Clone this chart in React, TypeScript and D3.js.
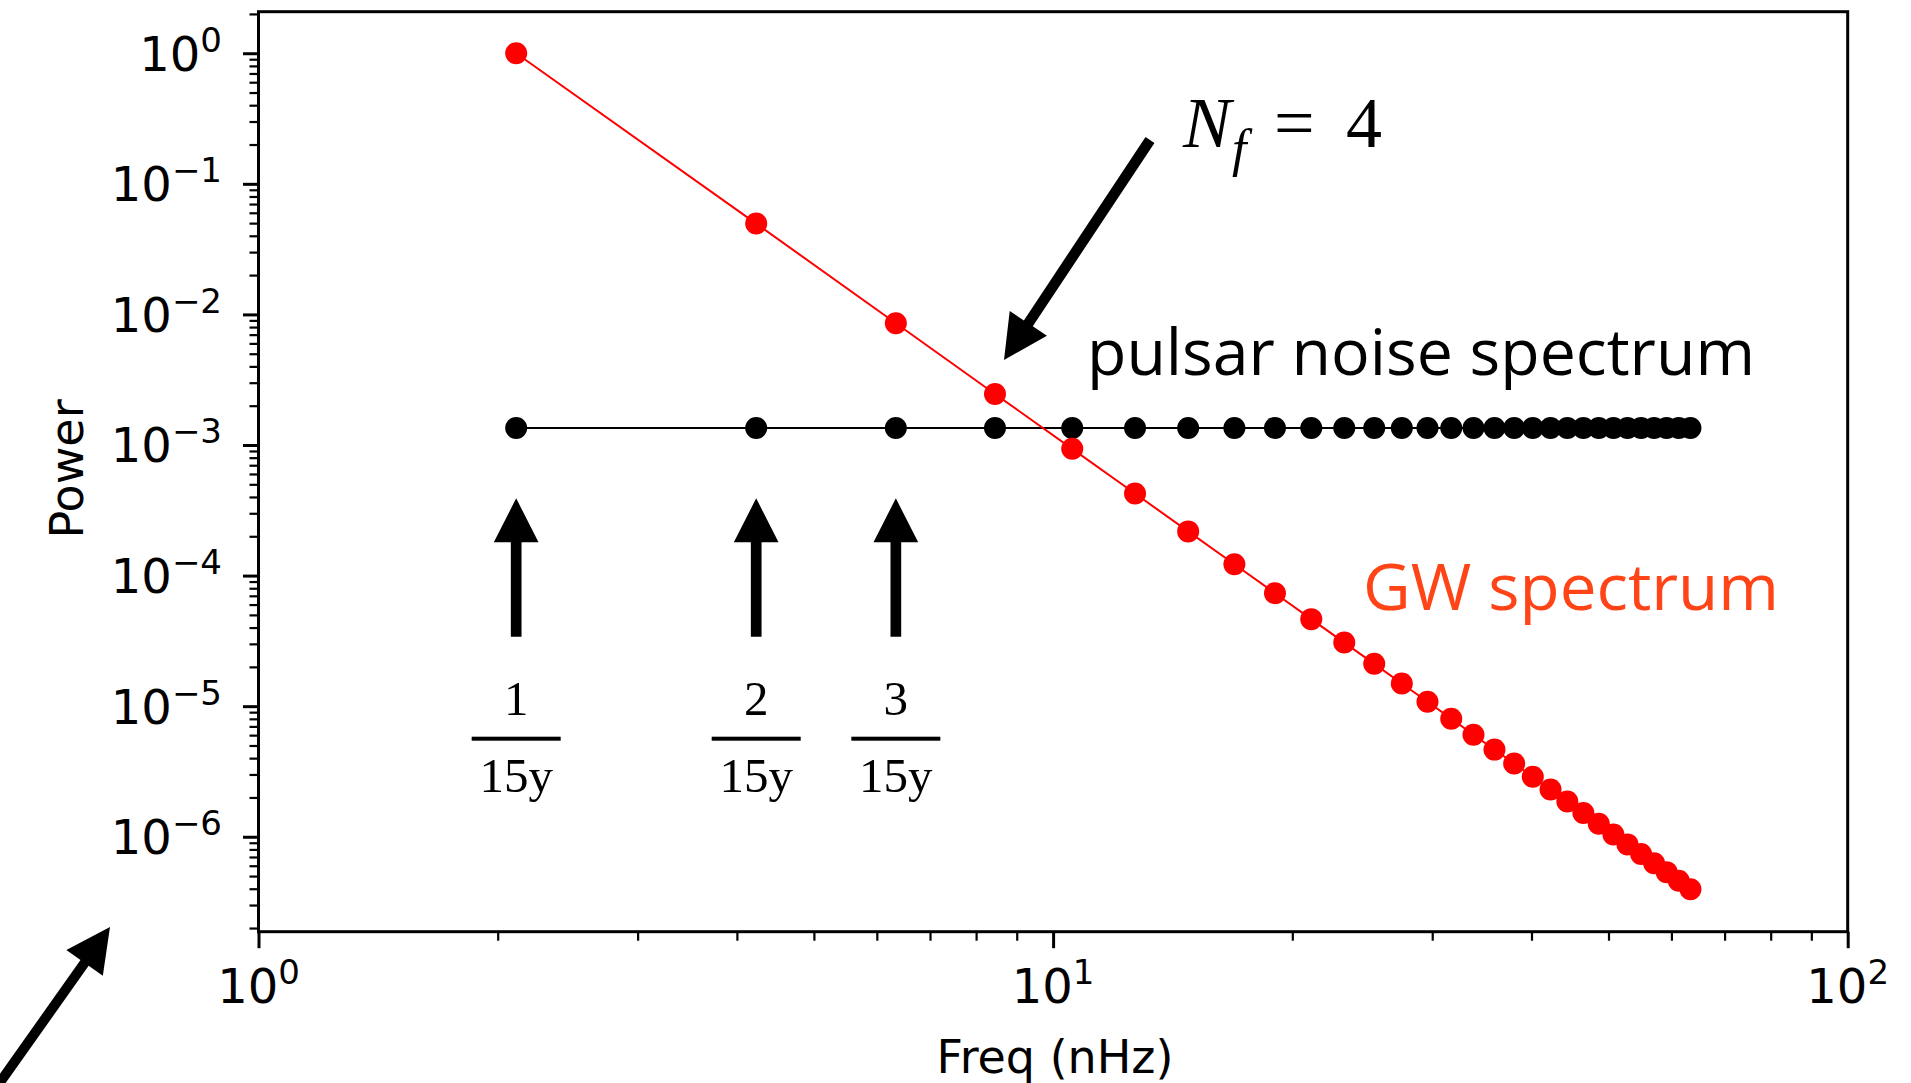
import React, { useEffect, useRef } from "react";
import * as d3 from "d3";

// frequencies in nHz (multiples of 1/15y)
const freqs = [2.11, 4.23, 6.34, 8.45, 10.57, 12.68, 14.79, 16.91, 19.02, 21.13,
  23.25, 25.36, 27.47, 29.59, 31.70, 33.81, 35.93, 38.04, 40.15, 42.27,
  44.38, 46.49, 48.61, 50.72, 52.83, 54.95, 57.06, 59.17, 61.29, 63.40];

const gwPower = [1.0, 0.0496, 0.00856, 0.00246, 0.000935, 0.000425, 0.000218, 0.000122, 7.33e-5, 4.64e-5,
  3.07e-5, 2.11e-5, 1.49e-5, 1.08e-5, 8.02e-6, 6.04e-6, 4.65e-6, 3.64e-6, 2.88e-6, 2.30e-6,
  1.86e-6, 1.52e-6, 1.26e-6, 1.04e-6, 8.74e-7, 7.38e-7, 6.27e-7, 5.36e-7, 4.60e-7, 3.97e-7];

const noisePower = [1.35e-3, 1.35e-3, 1.35e-3, 1.35e-3, 1.35e-3, 1.35e-3, 1.35e-3, 1.35e-3, 1.35e-3, 1.35e-3,
  1.35e-3, 1.35e-3, 1.35e-3, 1.35e-3, 1.35e-3, 1.35e-3, 1.35e-3, 1.35e-3, 1.35e-3, 1.35e-3,
  1.35e-3, 1.35e-3, 1.35e-3, 1.35e-3, 1.35e-3, 1.35e-3, 1.35e-3, 1.35e-3, 1.35e-3, 1.35e-3];

const xTickExps = [0, 1, 2];
const yTickExps = [0, -1, -2, -3, -4, -5, -6];
const fracNumerators = ["1", "2", "3"];

const W = 1911;
const H = 1083;

function App() {
  const ref = useRef<SVGSVGElement>(null);

  useEffect(() => {
    const svg = d3.select(ref.current);
    svg.selectAll("*").remove();

    const left = 258.5, right = 1847.7, top = 11.7, bottom = 931.7;

    const x = d3.scaleLog().domain([1, 100]).range([left, right]);
    const y = d3.scaleLog().domain([1.875e-7, 2.08]).range([bottom, top]);

    const tickFont = "'DejaVu Sans', sans-serif";
    const serif = "'Liberation Serif', 'Times New Roman', serif";

    // minor tick values
    const xMinor: number[] = [];
    [1, 10].forEach(d => { for (let k = 2; k <= 9; k++) xMinor.push(d * k); });
    const yMinor: number[] = [];
    [1e-7, 1e-6, 1e-5, 1e-4, 1e-3, 1e-2, 1e-1, 1].forEach(d => {
      for (let k = 2; k <= 9; k++) {
        const v = d * k;
        if (v >= 1.875e-7 && v <= 2.08) yMinor.push(v);
      }
    });

    // y axis ticks
    const gy = svg.append("g").attr("transform", `translate(${left},0)`);
    gy.call(d3.axisLeft(y).tickValues(yTickExps.map(e => Math.pow(10, e))).tickSize(15.5).tickFormat(() => ""));
    const gyMinor = svg.append("g").attr("transform", `translate(${left},0)`);
    gyMinor.call(d3.axisLeft(y).tickValues(yMinor).tickSize(9).tickFormat(() => ""));

    // x axis ticks
    const gx = svg.append("g").attr("transform", `translate(0,${bottom})`);
    gx.call(d3.axisBottom(x).tickValues(xTickExps.map(e => Math.pow(10, e))).tickSize(16.5).tickFormat(() => ""));
    const gxMinor = svg.append("g").attr("transform", `translate(0,${bottom})`);
    gxMinor.call(d3.axisBottom(x).tickValues(xMinor).tickSize(9).tickFormat(() => ""));

    [gy, gx].forEach(g => g.selectAll("line").attr("stroke", "#000").attr("stroke-width", 3));
    [gyMinor, gxMinor].forEach(g => g.selectAll("line").attr("stroke", "#000").attr("stroke-width", 2.2));
    [gy, gx, gyMinor, gxMinor].forEach(g => g.select(".domain").remove());

    // y tick labels
    yTickExps.forEach(e => {
      const t = svg.append("text")
        .attr("x", 222)
        .attr("y", y(Math.pow(10, e)) + 17.5)
        .attr("text-anchor", "end")
        .attr("font-family", tickFont)
        .attr("font-size", 48)
        .attr("fill", "#000");
      t.append("tspan").text("10");
      t.append("tspan").attr("dy", -19).attr("font-size", 34).text(e < 0 ? "\u2212" + (-e) : String(e));
    });

    // x tick labels
    xTickExps.forEach(e => {
      const t = svg.append("text")
        .attr("x", x(Math.pow(10, e)))
        .attr("y", 1002.7)
        .attr("text-anchor", "middle")
        .attr("font-family", tickFont)
        .attr("font-size", 48)
        .attr("fill", "#000");
      t.append("tspan").text("10");
      t.append("tspan").attr("dy", -19).attr("font-size", 34).text(String(e));
    });

    // axis labels
    svg.append("text")
      .attr("x", 1055).attr("y", 1073)
      .attr("text-anchor", "middle")
      .attr("font-family", tickFont).attr("font-size", 46)
      .text("Freq (nHz)");
    svg.append("text")
      .attr("transform", "translate(83.3,469) rotate(-90)")
      .attr("text-anchor", "middle")
      .attr("font-family", tickFont).attr("font-size", 46)
      .text("Power");

    const line = d3.line<number>().x((d, i) => x(freqs[i])).y(d => y(d));

    // pulsar noise (black)
    svg.append("path").datum(noisePower)
      .attr("d", line).attr("fill", "none").attr("stroke", "#000").attr("stroke-width", 2);
    svg.append("g").selectAll("circle").data(noisePower).enter().append("circle")
      .attr("cx", (d, i) => x(freqs[i])).attr("cy", d => y(d)).attr("r", 11).attr("fill", "#000");

    // GW spectrum (red)
    svg.append("path").datum(gwPower)
      .attr("d", line).attr("fill", "none").attr("stroke", "#ff0000").attr("stroke-width", 2);
    svg.append("g").selectAll("circle").data(gwPower).enter().append("circle")
      .attr("cx", (d, i) => x(freqs[i])).attr("cy", d => y(d)).attr("r", 11).attr("fill", "#ff0000");

    // frame
    svg.append("rect")
      .attr("x", left).attr("y", top)
      .attr("width", right - left).attr("height", bottom - top)
      .attr("fill", "none").attr("stroke", "#000").attr("stroke-width", 3);

    // block arrow helper: tip, tail, shaft width, head width, head length
    const arrow = (tx: number, ty: number, sx: number, sy: number, sw = 10.7, hw = 44.7, hl = 44) => {
      const dx = tx - sx, dy = ty - sy;
      const len = Math.sqrt(dx * dx + dy * dy);
      const ux = dx / len, uy = dy / len;
      const px = -uy, py = ux;
      const bx = tx - ux * hl, by = ty - uy * hl;
      const pts = [
        [sx + px * sw / 2, sy + py * sw / 2],
        [bx + px * sw / 2, by + py * sw / 2],
        [bx + px * hw / 2, by + py * hw / 2],
        [tx, ty],
        [bx - px * hw / 2, by - py * hw / 2],
        [bx - px * sw / 2, by - py * sw / 2],
        [sx - px * sw / 2, sy - py * sw / 2],
      ];
      svg.append("polygon").attr("points", pts.map(p => p.join(",")).join(" ")).attr("fill", "#000");
    };

    // arrows under the first three harmonics, with 1/15y, 2/15y, 3/15y
    fracNumerators.forEach((num, i) => {
      const cx = x(freqs[i]);
      arrow(cx, 498.3, cx, 636.7);
      svg.append("text").attr("x", cx).attr("y", 715)
        .attr("text-anchor", "middle").attr("font-family", serif)
        .attr("font-size", 49).text(num);
      svg.append("rect").attr("x", cx - 44.5).attr("y", 736.7).attr("width", 89).attr("height", 4).attr("fill", "#000");
      svg.append("text").attr("x", cx).attr("y", 791.7)
        .attr("text-anchor", "middle").attr("font-family", serif)
        .attr("font-size", 49).text("15y");
    });

    // N_f arrow + label
    arrow(1004, 360, 1150, 140);
    const nf = svg.append("text").attr("x", 1183).attr("y", 146.7)
      .attr("font-family", serif).attr("font-size", 72).attr("fill", "#000");
    nf.append("tspan").attr("font-style", "italic").text("N");
    nf.append("tspan").attr("x", 1232).attr("dy", 18.8).attr("font-style", "italic").attr("font-size", 52).text("f");
    nf.append("tspan").attr("x", 1274).attr("dy", -18.8).text("=");
    nf.append("tspan").attr("x", 1346).text("4");

    // labels
    svg.append("text").attr("x", 1087).attr("y", 375)
      .attr("font-family", "'Open Sans', sans-serif").attr("font-size", 64)
      .attr("textLength", 668).attr("lengthAdjust", "spacingAndGlyphs")
      .attr("fill", "#000").text("pulsar noise spectrum");
    svg.append("text").attr("x", 1363).attr("y", 610)
      .attr("font-family", "'Open Sans', sans-serif").attr("font-size", 64)
      .attr("textLength", 416).attr("lengthAdjust", "spacingAndGlyphs")
      .attr("fill", "#ff4517").text("GW spectrum");

    // arrow bottom-left, running off the page
    arrow(110, 927, -4, 1088, 10, 44.7, 44);
  }, []);

  return (
    <svg ref={ref} width={W} height={H}
      style={{ position: "absolute", left: 0, top: 0, background: "#fff" }} />
  );
}

export default App;
